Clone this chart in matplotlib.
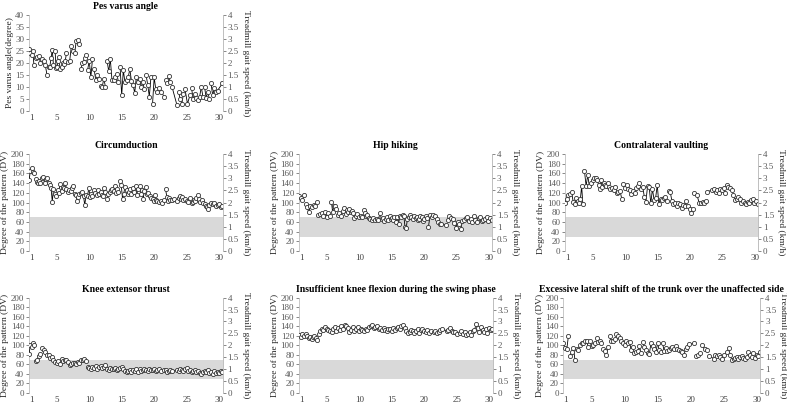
import numpy as np
import matplotlib
matplotlib.use('Agg')
import matplotlib.pyplot as plt

plt.rcParams['font.family'] = ['Liberation Serif', 'DejaVu Serif']

# sessions 1..30, several measurements per session
sessions = list(range(1, 31))
x_ticks = [1, 5, 10, 15, 20, 25, 30]
speed_ticks = [0, 0.5, 1, 1.5, 2, 2.5, 3, 3.5, 4]
normal_band = (30, 70)

pes_varus = [
    [26, 24, 23.5, 25, 19], [22, 22.5, 23, 20], [21.5, 21, 19, 15], [18.5, 18.5, 22, 25.5, 19],
    [25, 18, 18.5, 21, 22.5, 17.5], [18.5, 20, 19.5, 21, 24], [20.5, 21, 27, 25], [24, 29, 29.5, 28],
    [17.5, 20, 20.5, 22, 23.5], [17, 21, 14, 21.5], [17.5, 13, 15, 13.5], [10.5, 10, 13.5, 10],
    [21, 16.5, 21.5, 13], [13, 14, 15.5, 12], [18.5, 6.5, 17, 12], [13, 14, 17.5, 12.5],
    [11, 7.5, 14, 12], [13.5, 10, 12, 9], [15, 11, 6, 14], [3, 14, 9, 8], [9.5, 8, 6],
    [13, 11.5, 14.5, 12], [10, 2.5], [8, 5, 3, 7], [9, 3, 6.5], [9.5, 5, 7, 5.5],
    [4.5, 6, 10, 6], [10, 5.5, 8, 5], [11.5, 6.5, 9.5, 8], [8.5, 11.5],
]

circumduction = [
    [146, 165, 172, 162, 160], [149, 143, 140, 145, 141], [150, 152, 140, 148, 150],
    [140, 137, 130, 102, 127], [118, 113, 125, 120, 139], [124, 132, 130, 140, 128],
    [122, 126, 124, 130, 134], [117, 116, 104, 112, 118], [120, 122, 113, 94, 115],
    [114, 130, 112, 118, 114], [125, 120, 115, 126, 118], [122, 116, 114, 130, 121],
    [108, 118, 122, 125, 128], [124, 133, 120, 128, 122], [145, 135, 108, 118, 132],
    [125, 118, 122, 128, 118], [130, 122, 134, 116, 128], [134, 118, 126, 108, 124],
    [132, 118, 120, 114, 110], [108, 103, 116, 106, 104], [102, 104, 100, 106],
    [128, 112, 104, 110, 106], [105, 108, 104], [110, 114, 108, 112, 106], [108, 104, 102, 110],
    [98, 102, 106, 104, 110], [116, 108, 102, 106, 98], [96, 92, 90, 86, 94],
    [100, 96, 98, 92], [94, 96, 90, 92],
]

hip_hiking = [
    [114, 110, 106, 116], [96, 90, 80, 92], [90, 95, 92, 101], [74, 76, 78, 72], [80, 70, 78, 72],
    [102, 80, 92, 92, 86], [74, 78, 72, 82], [88, 76, 84, 80, 86], [80, 82, 78, 68, 72],
    [76, 70, 72, 70], [84, 78, 72, 74, 68], [66, 64, 68, 64], [66, 64, 78, 66],
    [68, 62, 66, 70, 64], [72, 66, 68, 64, 70], [60, 70, 56, 72, 70], [74, 72, 50, 48, 66],
    [70, 74, 70, 66, 72], [68, 70, 64, 66, 72], [70, 62, 66, 72, 68], [50, 74, 70, 74],
    [72, 66, 60, 56], [56, 54], [64, 72, 68, 66], [58, 48, 60, 56], [46, 62, 64, 68],
    [70, 62, 66, 60], [72, 64, 60, 68], [70, 62, 64, 66], [70, 62, 68, 64],
]

contralateral_vaulting = [
    [98, 108, 116, 118], [122, 102, 96, 110], [104, 100, 108, 134, 96], [165, 134, 156, 134],
    [140, 146, 150, 150], [146, 136, 128, 146, 132], [140, 136, 134, 140, 132], [128, 130, 126, 132],
    [120, 122, 124, 108], [138, 130, 136, 128], [126, 118, 124, 120], [130, 134, 140, 128],
    [132, 112, 102, 134], [132, 98, 128, 106], [110, 136, 96, 108], [106, 110, 112, 104],
    [124, 122, 104, 96], [100, 92, 98, 96], [88, 94, 92, 104], [92, 86, 78, 86], [120, 116, 98],
    [98, 102, 100, 104], [122, 126], [128, 122, 126, 120], [128, 126, 130, 120],
    [136, 132, 130, 126], [116, 106, 108, 112], [108, 100, 104, 98], [96, 102, 100, 106],
    [108, 98, 104, 96],
]

knee_extensor_thrust = [
    [82, 100, 96, 104, 100], [66, 68, 78, 82], [94, 90, 86, 80], [80, 74, 76, 70], [64, 62, 66, 60],
    [72, 66, 70, 68], [64, 58, 60, 62], [62, 60, 64, 62], [68, 70, 72, 66], [54, 52, 50, 54],
    [52, 56, 50, 54], [56, 52, 54, 58], [50, 48, 52, 50], [50, 52, 48, 50], [52, 54, 50, 46],
    [44, 46, 48, 44], [48, 46, 50, 44], [50, 46, 48, 50], [48, 46, 50, 48], [48, 50, 46, 48],
    [50, 46, 48], [48, 44, 46, 48], [46, 48], [46, 50, 48, 46], [50, 52, 46, 48], [44, 46, 48, 44],
    [46, 42, 40, 44], [46, 44, 48, 42], [44, 40, 46, 42], [44, 42, 46, 44],
]

knee_flexion = [
    [122, 118, 124, 120], [124, 120, 116, 118], [114, 118, 120, 116, 112], [124, 130, 134, 132],
    [138, 134, 132, 130], [128, 134, 138, 130], [136, 132, 140, 134], [142, 140, 136, 128],
    [132, 138, 130, 134], [138, 130, 134, 132], [130, 134, 132, 138], [140, 142, 136, 138],
    [140, 134, 136, 132], [136, 132, 130, 134], [134, 130, 136, 132], [136, 138, 134, 140],
    [142, 136, 130, 126], [128, 132, 130, 126], [130, 134, 126, 132], [134, 130, 128, 132],
    [126, 130, 128], [130, 126, 128, 132], [134, 130], [132, 136, 130, 128], [128, 124, 126],
    [130, 124, 128, 122], [124, 128, 122, 130], [132, 144, 136, 128], [138, 132, 128, 134],
    [126, 136, 132, 134],
]

lateral_shift = [
    [105, 95, 92, 120], [78, 86, 94, 68], [92, 90, 100, 104], [104, 108, 110, 96],
    [108, 98, 100, 104], [116, 106, 108, 104], [92, 88, 80, 96], [120, 108, 110, 114],
    [124, 120, 116, 110], [104, 100, 108, 104], [106, 90, 96, 84], [86, 88, 98, 84],
    [106, 96, 90, 84], [82, 104, 98, 92], [86, 104, 90, 86], [104, 88, 94, 88], [90, 94, 96, 92],
    [98, 92, 90, 88], [86, 80, 92, 96], [102, 104], [78, 80, 84], [100, 92, 90], [78, 72],
    [80, 78, 80, 76], [72, 80, 86], [94, 80, 68, 72], [74, 76, 72, 76], [78, 74, 72, 76],
    [86, 80, 76, 84], [74, 80, 78, 86],
]

panels = [
    ('Pes varus angle', pes_varus, 'Pes varus angle(degree)', 40, 5, False, [0.037, 0.726, 0.246, 0.237]),
    ('Circumduction', circumduction, 'Degree of the pattern (DV)', 200, 20, True, [0.037, 0.380, 0.246, 0.240]),
    ('Hip hiking', hip_hiking, 'Degree of the pattern (DV)', 200, 20, True, [0.380, 0.380, 0.245, 0.240]),
    ('Contralateral vaulting', contralateral_vaulting, 'Degree of the pattern (DV)', 200, 20, True, [0.718, 0.380, 0.245, 0.240]),
    ('Knee extensor thrust', knee_extensor_thrust, 'Degree of the pattern (DV)', 200, 20, True, [0.037, 0.030, 0.246, 0.235]),
    ('Insufficient knee flexion during the swing phase', knee_flexion, 'Degree of the pattern (DV)', 200, 20, True, [0.380, 0.030, 0.246, 0.235]),
    ('Excessive lateral shift of the trunk over the unaffected side', lateral_shift, 'Degree of the pattern (DV)', 200, 20, True, [0.716, 0.030, 0.250, 0.235]),
]

tick_col = '#595959'
spine_col = '#bfbfbf'

fig = plt.figure(figsize=(7.87, 4.05), dpi=100)

for title, data, ylab, ymax, ystep, band, rect in panels:
    ax = fig.add_axes(rect)
    xs, ys = [], []
    for s, vals in zip(sessions, data):
        n = len(vals)
        px = list(np.linspace(s - 0.3, s + 0.45, n))
        xs += px + [np.nan]
        ys += vals + [np.nan]
    if band:
        ax.axhspan(normal_band[0], normal_band[1], color='#d9d9d9', lw=0, zorder=0)
    ax.plot(xs, ys, color='black', lw=0.6, marker='o', ms=3.0, mfc='white',
            mec='#333333', mew=0.6, zorder=3)
    ax.set_xlim(0.7, 30.5)
    ax.set_ylim(0, ymax)
    ax.set_yticks(np.arange(0, ymax + 1, ystep))
    ax.set_xticks(x_ticks)
    ax.tick_params(axis='x', length=0, labelsize=6.5, colors='#404040', pad=2)
    ax.tick_params(axis='y', length=2, width=0.5, labelsize=6.5, colors=tick_col, pad=1.5)
    for sp in ['top', 'bottom']:
        ax.spines[sp].set_visible(False)
    for sp in ['left', 'right']:
        ax.spines[sp].set_color(spine_col)
        ax.spines[sp].set_linewidth(0.6)
    ax.set_ylabel(ylab, fontsize=6.8, color='#262626', labelpad=1)
    ax.set_title(title, fontsize=7, fontweight='bold', pad=4)

    ax2 = ax.twinx()
    ax2.set_ylim(0, 4)
    ax2.set_yticks(speed_ticks)
    ax2.set_yticklabels([f'{v:g}' for v in speed_ticks])
    ax2.tick_params(axis='y', length=2, width=0.5, labelsize=6.5, colors=tick_col, pad=1.5)
    for sp in ['top', 'bottom', 'left']:
        ax2.spines[sp].set_visible(False)
    ax2.spines['right'].set_color(spine_col)
    ax2.spines['right'].set_linewidth(0.6)
    ax2.set_ylabel('Treadmill gait speed (km/h)', fontsize=6.8, color='#262626',
                   rotation=270, labelpad=8)

fig.savefig('out.png', dpi=100)
